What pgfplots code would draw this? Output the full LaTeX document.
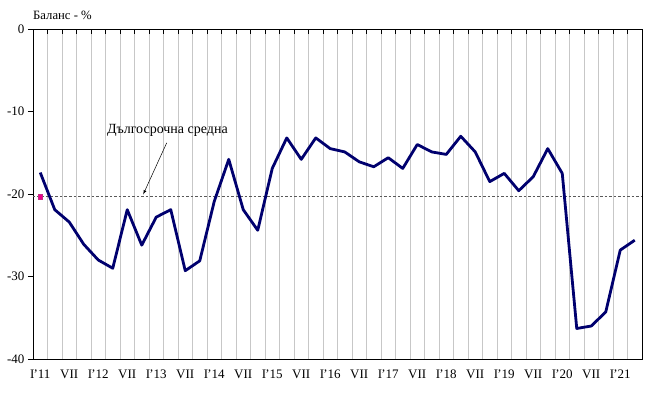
\documentclass[border=0pt]{standalone}
\usepackage{pgfplots}
\pgfplotsset{compat=1.18}
\usepackage{fontspec}
\setmainfont{Liberation Serif}
\definecolor{navyline}{RGB}{0,0,110}
\newcommand{\Iq}{I\kern-0.9pt'}
\begin{document}
\fontsize{13pt}{15pt}\selectfont
\begin{tikzpicture}
\begin{axis}[
  scale only axis, width=609pt, height=330pt,
  xmin=-0.5, xmax=41.5, ymin=-40, ymax=0,
  ytick={-40,-30,-20,-10,0},
  xtick={0,2,...,40},
  xticklabels={\Iq11,VII,\Iq12,VII,\Iq13,VII,\Iq14,VII,\Iq15,VII,\Iq16,VII,\Iq17,VII,\Iq18,VII,\Iq19,VII,\Iq20,VII,\Iq21},
  minor xtick={-0.5,0.5,...,41.5},
  xminorgrids,
  minor grid style={black!22, line width=0.8pt},
  xtick pos=right, xticklabel pos=left,
  ytick pos=left,
  tick align=outside,
  major tick length=5pt,
  minor tick length=-4.5pt,
  every major x tick/.append style={draw=none},
  every minor x tick/.append style={black, line width=0.8pt},
  every major y tick/.append style={black, line width=0.8pt},
  axis line style={black, line width=0.8pt},
  /pgf/number format/assume math mode=true,
  ticklabel style={font=\fontsize{13pt}{15pt}\selectfont},
  xticklabel style={yshift=-1pt},
  yticklabel style={xshift=1pt},
  clip=false,
]
\addplot[black!65, line width=0.8pt, dash pattern=on 2.5pt off 2pt] coordinates {(-0.5,-20.3) (41.5,-20.3)};
\addplot[navyline, line width=2.8pt, line join=round] coordinates {
(0,-17.4) (1,-21.9) (2,-23.4) (3,-26.1) (4,-28.0) (5,-29.0) (6,-21.9) (7,-26.2)
(8,-22.8) (9,-21.9) (10,-29.3) (11,-28.1) (12,-20.9) (13,-15.8) (14,-21.9) (15,-24.4)
(16,-16.9) (17,-13.2) (18,-15.8) (19,-13.2) (20,-14.5) (21,-14.9) (22,-16.1) (23,-16.7)
(24,-15.6) (25,-16.9) (26,-14.0) (27,-14.9) (28,-15.2) (29,-13.0) (30,-14.9) (31,-18.5)
(32,-17.5) (33,-19.6) (34,-17.9) (35,-14.5) (36,-17.5) (37,-36.3) (38,-36.0) (39,-34.3)
(40,-26.8) (41,-25.6)};
\addplot[only marks, mark=square*, mark size=2.3pt, color=magenta, mark options={draw=magenta!80!black, fill=magenta}] coordinates {(0,-20.3)};
\node[font=\fontsize{14pt}{16pt}\selectfont] at (axis cs:8.77,-12.24) {Дългосрочна средна};
\draw[-latex, black, line width=0.5pt] (axis cs:8.72,-13.8) -- (axis cs:7.1,-20.05);
\node[anchor=base west, inner xsep=0pt, font=\fontsize{12.7pt}{14pt}\selectfont] at ([yshift=10pt]rel axis cs:0,1) {Баланс - \%};
\coordinate (sw) at (rel axis cs:0,0);
\coordinate (ne) at (rel axis cs:1,1);
\end{axis}
\pgfresetboundingbox
\path[use as bounding box] ([xshift=-33pt,yshift=-38pt]sw) rectangle ([xshift=13pt,yshift=29pt]ne);
\end{tikzpicture}
\end{document}
